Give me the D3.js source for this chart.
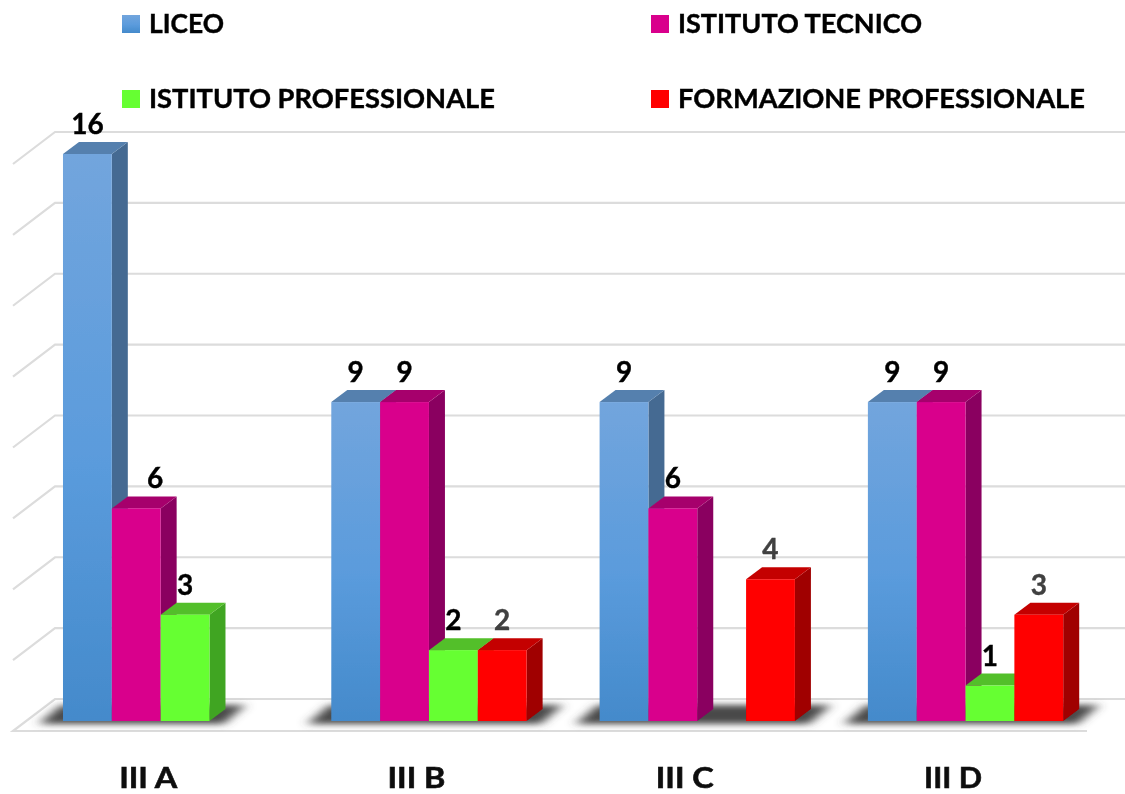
<!DOCTYPE html>
<html><head><meta charset="utf-8">
<script src="https://cdnjs.cloudflare.com/ajax/libs/d3/7.8.5/d3.min.js"></script>
<style>html,body{margin:0;background:#fff}svg{display:block}text{font-family:Lato,sans-serif;font-weight:700}</style>
</head><body><svg id="c" width="1125" height="794"></svg>
<script>
const categories=["III A","III B","III C","III D"];
const seriesNames=["LICEO","ISTITUTO TECNICO","ISTITUTO PROFESSIONALE","FORMAZIONE PROFESSIONALE"];
const liceo=[16,9,9,9];
const tecnico=[6,9,6,9];
const professionale=[3,2,null,1];
const formazione=[null,2,4,3];
const gridValues=[0,2,4,6,8,10,12,14,16];
const fronts=["url(#blue)","#d9008c","#66ff33","#ff0000"];
const tops=["#5580ae","#a6006c","#52bf2a","#c40000"];
const sides=["#456a92","#8a0060","#41a520","#a00000"];
const allSeries=[liceo,tecnico,professionale,formazione];
const dx=16,dy=-12;
const svg=d3.select("#c");
const defs=svg.append("defs");
const g=defs.append("linearGradient").attr("id","blue").attr("x1",0).attr("y1",0).attr("x2",0).attr("y2",1);
g.append("stop").attr("offset",0).attr("stop-color","#72a5dd");
g.append("stop").attr("offset",.55).attr("stop-color","#5a9bdc");
g.append("stop").attr("offset",1).attr("stop-color","#448acb");
defs.append("filter").attr("id","blur").attr("filterUnits","userSpaceOnUse").attr("x",0).attr("y",660).attr("width",1125).attr("height",100)
 .append("feGaussianBlur").attr("stdDeviation","6 3");
defs.append("filter").attr("id","soft").attr("filterUnits","userSpaceOnUse").attr("x",0).attr("y",0).attr("width",1125).attr("height",794)
 .append("feGaussianBlur").attr("stdDeviation",.55);
const root=svg.append("g");
const x=d3.scaleBand().domain(categories).range([26.5,1099.7]).paddingInner(.272).paddingOuter(.136);
const sub=d3.scaleBand().domain(seriesNames).range([0,x.bandwidth()]);
const y=d3.scaleLinear().domain([0,16]).range([721,154]);
const backY=v=>y(v)-22, grid=root.append("g").attr("fill","none").attr("stroke","#dcdcdc").attr("stroke-width",2.2);
gridValues.forEach(v=>{
  if(v===0) grid.append("path").attr("d",`M1125,${backY(0)}H55L13,${y(0)+10}H1087`);
  else grid.append("path").attr("d",`M1125,${backY(v)}H55L13,${backY(v)+32}`);
});
const shadow=root.append("g");
categories.forEach((c,i)=>{
  const x0=x(c);
  const last=d3.max(seriesNames.filter((s,k)=>allSeries[k][i]!=null),s=>sub(s))+sub.bandwidth()+x0;
  shadow.append("path").attr("d",`M${x0-24},724L${x0-2},705H${last+36}L${last+14},724Z`)
   .attr("fill","#4a4a4a").attr("filter","url(#blur)");
});
const bars=root.append("g");
categories.forEach((c,i)=>{
  seriesNames.forEach((s,k)=>{
    const v=allSeries[k][i]; if(v==null) return;
    const bx=x(c)+sub(s),w=sub.bandwidth(),ty=y(v),by=y(0);
    bars.append("path").attr("fill",sides[k]).attr("d",`M${bx+w},${ty}l${dx},${dy}V${by+dy}l${-dx},${-dy}Z`);
    bars.append("path").attr("fill",tops[k]).attr("d",`M${bx},${ty}l${dx},${dy}h${w}l${-dx},${-dy}Z`);
    bars.append("rect").attr("x",bx).attr("y",ty).attr("width",w).attr("height",by-ty).attr("fill",fronts[k]);
  });
});
const isGrey=(i,k)=>k===3;
const isShifted=(i,k)=>i===0&&k===1;
categories.forEach((c,i)=>{
  seriesNames.forEach((s,k)=>{
    const v=allSeries[k][i]; if(v==null) return;
    const col=isGrey(i,k)?"#404040":"#000";
    root.append("text").attr("x",x(c)+sub(s)+sub.bandwidth()/2+(isShifted(i,k)?19:0)).attr("y",y(v)-20)
     .attr("text-anchor","middle").attr("font-size",28)
     .attr("fill",col).attr("stroke",col).attr("stroke-width",.4).text(v);
  });
});
categories.forEach(c=>{
  root.append("text").attr("x",x(c)+x.bandwidth()/2-12.5).attr("y",787.5)
   .attr("text-anchor","middle").attr("font-size",28).attr("fill","#111").attr("stroke","#111").attr("stroke-width",.6)
   .attr("textLength",58).attr("lengthAdjust","spacingAndGlyphs").text(c);
});
const lx=[122,651],ly=[24,99],lw=[75,244,346,407];
seriesNames.forEach((s,k)=>{
  const col=k%2,row=k>>1;
  root.append("rect").attr("x",lx[col]).attr("y",ly[row]-9).attr("width",18).attr("height",18)
   .attr("fill",k===0?"url(#blue)":fronts[k]);
  root.append("text").attr("x",lx[col]+27).attr("y",ly[row]+9).attr("font-size",26).attr("fill","#000")
   .attr("stroke","#000").attr("stroke-width",.4)
   .attr("textLength",lw[k]).attr("lengthAdjust","spacingAndGlyphs").text(s);
});
root.attr("filter","url(#soft)");
</script></body></html>
